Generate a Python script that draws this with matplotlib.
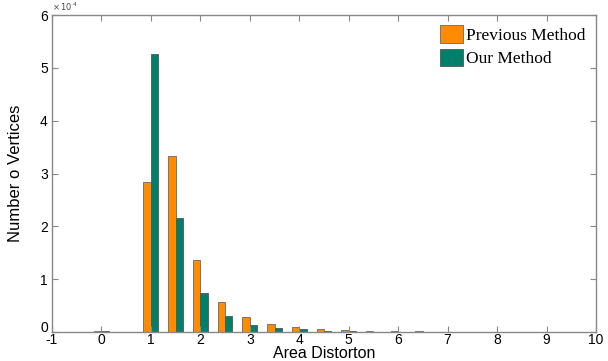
import matplotlib
matplotlib.use("Agg")
import matplotlib.pyplot as plt
import matplotlib.transforms as mtransforms
import numpy as np

bins = [0, 0.5, 1, 1.5, 2, 2.5, 3, 3.5, 4, 4.5, 5, 5.5, 6, 6.5, 7, 7.5, 8, 8.5, 9, 9.5]
previous = [0.01, 0.0, 2.83, 3.33, 1.36, 0.57, 0.28, 0.15, 0.09, 0.05, 0.04, 0.02,
            0.015, 0.012, 0.006, 0.005, 0.004, 0.004, 0.003, 0.003]
ours = [0.01, 0.0, 5.26, 2.15, 0.73, 0.30, 0.13, 0.07, 0.05, 0.025, 0.012, 0.006,
        0.005, 0.004, 0.003, 0.003, 0.003, 0.003, 0.002, 0.002]
xticks = list(range(-1, 11))
yticks = [0, 1, 2, 3, 4, 5, 6]

orange = "#FF8C00"
green = "#00806A"

fig = plt.figure(figsize=(6.08, 3.61), dpi=100)
ax = fig.add_axes([0.0855, 0.0803, 0.8947, 0.8781])

x = np.array(bins)
w = 0.15
ax.bar(x - w / 2, previous, width=w, color=orange, edgecolor="#666666", linewidth=0.6,
       label="Previous Method")
ax.bar(x + w / 2, ours, width=w, color=green, edgecolor="#555555", linewidth=0.6,
       label="Our Method")

ax.set_xlim(-1, 10)
ax.set_ylim(0, 6)
ax.set_xticks(xticks)
ax.set_yticks(yticks)
ax.set_xticklabels([str(t) for t in xticks], family="Liberation Sans", fontsize=10)
ax.set_yticklabels([str(t) for t in yticks], family="Liberation Sans", fontsize=10)
ax.tick_params(direction="in", top=True, right=True, length=4, color="#888888")
ax.tick_params(axis="x", pad=1)
ax.tick_params(axis="y", pad=3)
for s in ax.spines.values():
    s.set_color("#888888")
    s.set_linewidth(1.0)

# lift the "0" y-label slightly, as in the reference
zero_lbl = ax.get_yticklabels()[0]
zero_lbl.set_transform(zero_lbl.get_transform() +
                       mtransforms.ScaledTranslation(0, 4 / 72, fig.dpi_scale_trans))

ax.text(0.0, 1.005, r"$\times\,10^{\,4}$", transform=ax.transAxes, fontsize=6,
        family="Liberation Serif", color="#444444", va="bottom", ha="left")

ax.set_xlabel("Area Distorton", family="Liberation Sans", fontsize=11.5, labelpad=-1)
ax.set_ylabel("Number o Vertices", family="Liberation Sans", fontsize=12, labelpad=12)

leg = ax.legend(loc="upper right", frameon=False, prop={"family": "Liberation Serif", "size": 12.5},
                handlelength=1.3, handleheight=1.2, handletextpad=0.2, labelspacing=0.25,
                borderaxespad=0.2)

fig.savefig("out.png", dpi=100)
